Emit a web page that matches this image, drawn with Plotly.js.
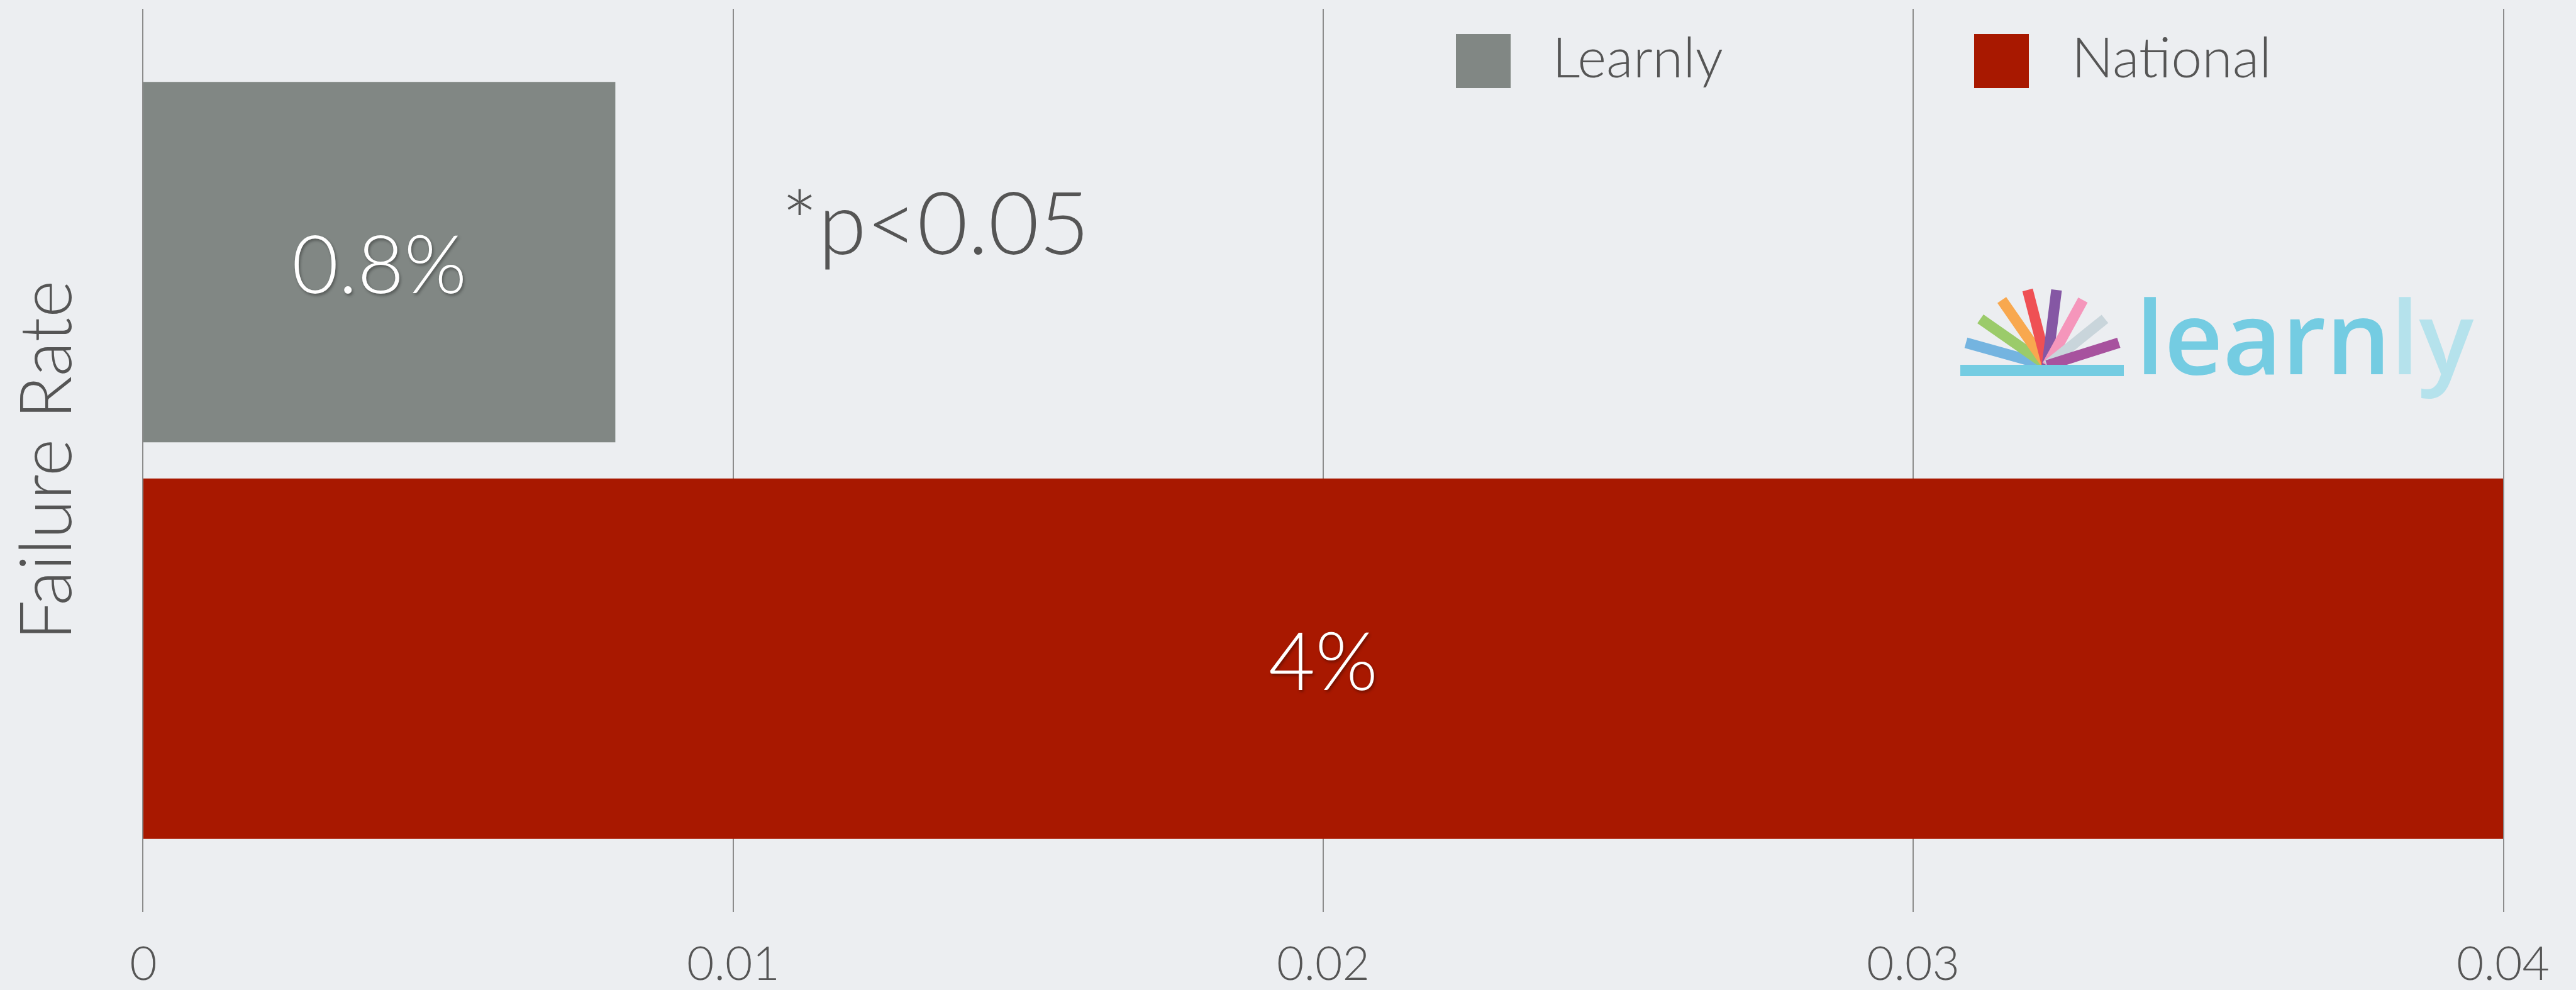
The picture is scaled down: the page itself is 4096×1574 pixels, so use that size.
<!DOCTYPE html>
<html>
<head>
<meta charset="utf-8">
<script src="https://cdn.plot.ly/plotly-3.0.1.min.js"></script>
<style>
  html, body { margin: 0; padding: 0; background: #eceef1; }
  #chart { width: 4096px; height: 1574px; }
</style>
</head>
<body>
<div id="chart"></div>
<script>
// Failure rate: Learnly vs national average
const categories = ['Failure Rate'];
const seriesNames = ['Learnly', 'National'];
const learnlyValues = [0.008];
const nationalValues = [0.04];
const seriesColors = ['#818784', '#a81800'];
const tickValues = [0, 0.01, 0.02, 0.03, 0.04];
const tickLabels = ['0', '0.01', '0.02', '0.03', '0.04'];
const noteText = '*p<0.05';
const logoWord = ['learn', 'ly'];

const W = 4096, H = 1574;
const M = { l: 228, r: 116, t: 14, b: 124 };
const px = x => (x - M.l) / (W - M.l - M.r);
const py = y => 1 - (y - M.t) / (H - M.t - M.b);

const FONT = 'Lato, "Open Sans", sans-serif';
const TEXT_COLOR = '#555555';
const GRID_COLOR = '#8c8c8c';

const labelFont = {
  family: FONT, weight: 300, size: 128, color: '#ffffff',
  shadow: '2px 3px 4px rgba(0,0,0,0.35)'
};

const traces = [
  {
    type: 'bar', orientation: 'h',
    y: categories, x: learnlyValues, name: seriesNames[0],
    marker: { color: seriesColors[0] },
    texttemplate: '%{x:.1~%}', textposition: 'inside', insidetextanchor: 'middle',
    textfont: labelFont, hoverinfo: 'skip'
  },
  {
    type: 'bar', orientation: 'h',
    y: categories, x: nationalValues, name: seriesNames[1],
    marker: { color: seriesColors[1] },
    texttemplate: '%{x:.1~%}', textposition: 'inside', insidetextanchor: 'middle',
    textfont: labelFont, hoverinfo: 'skip'
  }
];

const shapes = [];
const annotations = [];

// Legend: square swatches with names to their right
const legendItems = [
  { sx0: 2315, sx1: 2402, tx: 2466 },
  { sx0: 3139, sx1: 3226, tx: 3292 }
];
legendItems.forEach((it, i) => {
  shapes.push({
    type: 'rect', xref: 'paper', yref: 'paper',
    x0: px(it.sx0), x1: px(it.sx1), y0: py(140), y1: py(54),
    fillcolor: seriesColors[i], line: { width: 0 }
  });
  annotations.push({
    xref: 'paper', yref: 'paper', x: px(it.tx), y: py(89),
    xanchor: 'left', yanchor: 'middle', showarrow: false,
    text: seriesNames[i],
    font: { family: FONT, weight: 300, size: 88, color: TEXT_COLOR }
  });
});

// Significance note
annotations.push({
  xref: 'paper', yref: 'paper', x: px(1240), y: py(350),
  xanchor: 'left', yanchor: 'middle', showarrow: false,
  text: noteText,
  font: { family: FONT, weight: 300, size: 139, color: TEXT_COLOR }
});

// Logo: fanned book pages over a base bar, followed by the wordmark
const rayOrigin = [3255, 581];
const rays = [
  { end: [3126, 545], color: '#74b4e0' },
  { end: [3149, 507], color: '#9bcb6a' },
  { end: [3183, 477], color: '#f8a84f' },
  { end: [3224, 461], color: '#ef5054' },
  { end: [3270, 461], color: '#8557a4' },
  { end: [3312, 477], color: '#f596bb' },
  { end: [3347, 507], color: '#c9d5db' },
  { end: [3369, 545], color: '#a7529e' }
];
rays.forEach(r => {
  shapes.push({
    type: 'line', xref: 'paper', yref: 'paper',
    x0: px(rayOrigin[0]), y0: py(rayOrigin[1]), x1: px(r.end[0]), y1: py(r.end[1]),
    line: { color: r.color, width: 17 }
  });
});
shapes.push({
  type: 'rect', xref: 'paper', yref: 'paper',
  x0: px(3117), x1: px(3377), y0: py(598), y1: py(580),
  fillcolor: '#74cce2', line: { width: 0 }
});
annotations.push({
  xref: 'paper', yref: 'paper', x: px(3394), y: py(532),
  xanchor: 'left', yanchor: 'middle', showarrow: false,
  text: logoWord[0] + '<span style="color:#b5e2ec">' + logoWord[1] + '</span>',
  font: { family: '"Open Sans", sans-serif', weight: 600, size: 162, color: '#74cce2' }
});

const layout = {
  width: W, height: H,
  margin: M,
  paper_bgcolor: '#eceef1',
  plot_bgcolor: '#eceef1',
  showlegend: false,
  barmode: 'group',
  bargap: 0.1216,
  bargroupgap: 0.0915,
  font: { family: FONT, weight: 300, color: TEXT_COLOR },
  xaxis: {
    range: [0, 0.04],
    tickmode: 'array', tickvals: tickValues, ticktext: tickLabels,
    showgrid: true, gridcolor: GRID_COLOR, gridwidth: 2,
    zeroline: false, showline: false, ticks: '',
    tickfont: { family: FONT, weight: 300, size: 75, color: TEXT_COLOR },
    ticklabelstandoff: 32
  },
  yaxis: {
    type: 'category', autorange: 'reversed',
    showgrid: false, zeroline: false, ticks: '',
    showline: true, mirror: true, linecolor: GRID_COLOR, linewidth: 2,
    showticklabels: false,
    title: {
      text: categories[0], standoff: 96,
      font: { family: FONT, weight: 300, size: 114, color: TEXT_COLOR }
    }
  },
  shapes: shapes,
  annotations: annotations
};

Plotly.newPlot('chart', traces, layout, { staticPlot: true, displayModeBar: false });
</script>
</body>
</html>
